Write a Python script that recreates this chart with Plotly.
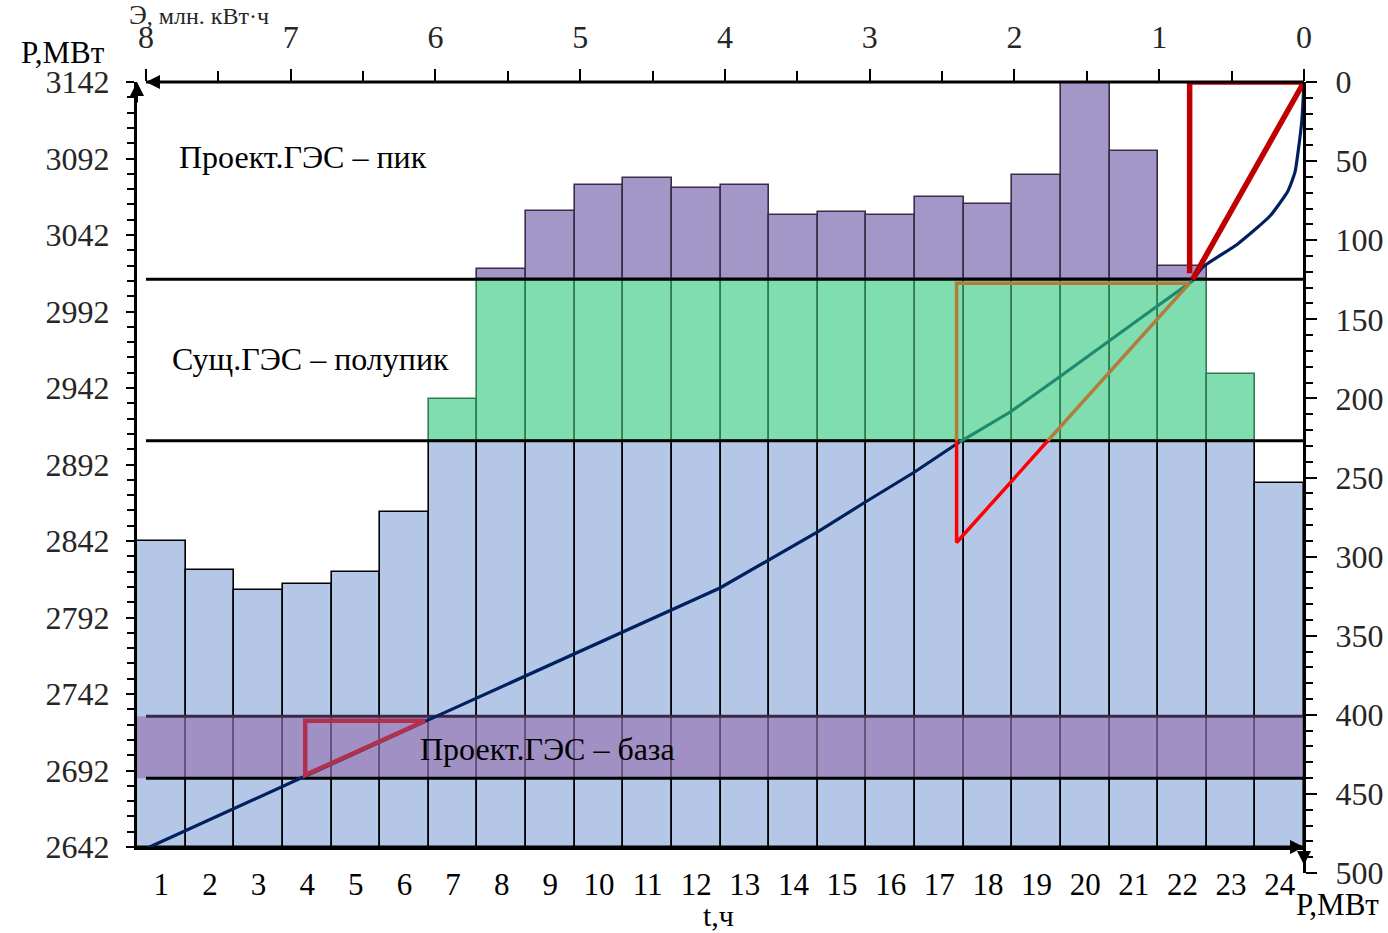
import plotly.graph_objects as go

# ---------------- data ----------------
hours = list(range(1, 25))
load_mw = [2842, 2823, 2810, 2814, 2822, 2861, 2935, 3020, 3058, 3075, 3079, 3073,
           3075, 3055, 3057, 3055, 3067, 3062, 3081, 3142, 3097, 3022, 2951, 2880]

p_min = 2642
p_max = 3142
semi_level = 2907.5          # base / semi-peak boundary
peak_level = 3013            # semi-peak / peak boundary
base_band = [2687, 2727.5]   # projected HPP - base band

# integral load curve (x: energy, million kWh counted from the right; y: MW)
curve_low_e = [7.99, 6.06, 4.035, 3.70, 3.36, 3.03, 2.69, 2.38]
curve_low_p = [2641.3, 2724.6, 2811.3, 2829.6, 2847.9, 2867.5, 2887.1, 2906.7]
curve_mid_e = [2.38, 2.03, 1.69, 1.35, 1.02, 0.77]
curve_mid_p = [2906.7, 2926.3, 2949.2, 2972.7, 2995.1, 3012]
curve_top_e = [0.77, 0.70, 0.46, 0.235, 0.111, 0.062, 0.041, 0.014, 0]
curve_top_p = [3012, 3021, 3036, 3054.4, 3070.8, 3083.2, 3096.3, 3117.8, 3142]

# triangles
peak_tri_e = [0.79, 0.79, 0, 0.77]
peak_tri_p = [3017, 3142, 3142, 3013]
semi_tri_e = [1.77, 0.79, 2.40, 2.40]
semi_tri_p = [2907.5, 3010.5, 3010.5, 2907.5]
semi_low_e = [2.40, 2.40, 1.77]
semi_low_p = [2907.5, 2841, 2907.5]
base_tri_e = [6.07, 6.90, 6.90, 6.07]
base_tri_p = [2724.5, 2724.5, 2689, 2724.5]

energy_left = 8.062

# ---------------- derived stack parts ----------------
blue_h, green_h, purple_h = [], [], []
for p in load_mw:
    blue_h.append(min(p, semi_level) - p_min)
    green_h.append(min(p, peak_level) - semi_level if p > semi_level else None)
    purple_h.append(p - peak_level if p > peak_level else None)

FONT = "Liberation Serif"
W, H = 1388, 933
ML, MR, MT, MB = 137, 84, 82, 60
ph = H - MT - MB
pw = W - ML - MR
ydom0 = 26 / ph

fig = go.Figure()

fig.add_trace(go.Bar(x=hours, y=blue_h, base=p_min, width=1,
                     marker=dict(color="#B4C7E7", line=dict(color="#000000", width=1.6)),
                     showlegend=False, hoverinfo="skip"))
fig.add_trace(go.Bar(x=hours, y=green_h, base=semi_level, width=1,
                     marker=dict(color="#80DDB0", line=dict(color="#2E7D4F", width=1.6)),
                     showlegend=False, hoverinfo="skip"))
fig.add_trace(go.Bar(x=hours, y=purple_h, base=peak_level, width=1,
                     marker=dict(color="#A397C8", line=dict(color="#3D2B4A", width=1.6)),
                     showlegend=False, hoverinfo="skip"))

# base band (semi-transparent)
fig.add_trace(go.Scatter(x=[0.4, 24.5, 24.5, 0.4, 0.4],
                         y=[base_band[0], base_band[0], base_band[1], base_band[1], base_band[0]],
                         fill="toself", fillcolor="rgba(150,116,178,0.66)", mode="none",
                         showlegend=False, hoverinfo="skip"))

# level lines
for lvl, col in [(peak_level, "#000000"), (semi_level, "#000000"),
                 (base_band[1], "#3A2A4A"), (base_band[0], "#000000")]:
    fig.add_trace(go.Scatter(x=[8, 0], y=[lvl, lvl], xaxis="x2", mode="lines",
                             line=dict(color=col, width=3), showlegend=False, hoverinfo="skip"))

# integral curve
fig.add_trace(go.Scatter(x=curve_low_e, y=curve_low_p, xaxis="x2", mode="lines",
                         line=dict(color="#002060", width=3.2),
                         showlegend=False, hoverinfo="skip"))
fig.add_trace(go.Scatter(x=curve_mid_e, y=curve_mid_p, xaxis="x2", mode="lines",
                         line=dict(color="#1F8A6C", width=3.2),
                         showlegend=False, hoverinfo="skip"))
fig.add_trace(go.Scatter(x=curve_top_e, y=curve_top_p, xaxis="x2", mode="lines",
                         line=dict(color="#002060", width=3.2, shape="spline", smoothing=0.5),
                         showlegend=False, hoverinfo="skip"))

# triangles
fig.add_trace(go.Scatter(x=base_tri_e, y=base_tri_p, xaxis="x2", mode="lines",
                         line=dict(color="#B03050", width=4.5), showlegend=False, hoverinfo="skip"))
fig.add_trace(go.Scatter(x=semi_tri_e, y=semi_tri_p, xaxis="x2", mode="lines",
                         line=dict(color="#B07D3C", width=3.5), showlegend=False, hoverinfo="skip"))
fig.add_trace(go.Scatter(x=semi_low_e, y=semi_low_p, xaxis="x2", mode="lines",
                         line=dict(color="#FF0000", width=3.5), showlegend=False, hoverinfo="skip"))
fig.add_trace(go.Scatter(x=peak_tri_e, y=peak_tri_p, xaxis="x2", mode="lines",
                         line=dict(color="#C00000", width=5.5), showlegend=False, hoverinfo="skip"))

# invisible trace for the right axis
fig.add_trace(go.Scatter(x=[None], y=[None], xaxis="x", yaxis="y3", mode="lines",
                         showlegend=False, hoverinfo="skip"))

tickfont = dict(family=FONT, size=32, color="#262626")

fig.update_layout(
    template="none",
    width=W, height=H,
    margin=dict(l=ML, r=MR, t=MT, b=MB, pad=0),
    paper_bgcolor="white", plot_bgcolor="rgba(0,0,0,0)",
    barmode="overlay", bargap=0,
    font=dict(family=FONT, size=30, color="black"),
    xaxis=dict(range=[0.5, 24.5], tickmode="array", tickvals=hours, ticktext=[str(h) for h in hours],
               showline=True, linecolor="black", linewidth=3, ticks="", showgrid=False, zeroline=False,
               tickfont=dict(family=FONT, size=31, color="black"), ticklabelstandoff=8, anchor="y",
               automargin=False),
    xaxis2=dict(range=[energy_left, 0], overlaying="x", side="top", anchor="y",
                tickmode="linear", tick0=0, dtick=1, ticks="outside", ticklen=12, tickwidth=2,
                tickcolor="black", showline=False, showgrid=False, zeroline=False,
                minor=dict(tick0=0, dtick=0.5, ticks="outside", ticklen=10, tickwidth=2, tickcolor="black"),
                tickfont=tickfont, ticklabelstandoff=8, automargin=False),
    yaxis=dict(range=[p_min, p_max], domain=[ydom0, 1], tickmode="linear", tick0=p_min, dtick=50,
               ticks="outside", ticklen=8, tickwidth=2, tickcolor="black",
               minor=dict(tick0=p_min, dtick=10, ticks="outside", ticklen=7, tickwidth=2, tickcolor="black"),
               showline=True, linecolor="black", linewidth=3, showgrid=False, zeroline=False,
               tickfont=tickfont, ticklabelstandoff=10, anchor="x", automargin=False),
    yaxis3=dict(range=[500, 0], domain=[0, 1], anchor="free", position=1, side="right",
                tickmode="linear", tick0=0, dtick=50, ticks="outside", ticklen=11, tickwidth=2,
                tickcolor="black",
                minor=dict(tick0=0, dtick=10, ticks="outside", ticklen=7, tickwidth=2, tickcolor="black"),
                showline=True, linecolor="black", linewidth=3, showgrid=False, zeroline=False,
                tickfont=tickfont, ticklabelstandoff=12, automargin=False, autoshift=False),
    shapes=[dict(type="line", xref="x2", yref="paper", x0=8, x1=0, y0=1, y1=1,
                 line=dict(color="black", width=3), layer="above")],
)

ann = []
lab_font = dict(family=FONT, size=32, color="black")
ann.append(dict(x=1.32, y=3093, xref="x", yref="y", text="Проект.ГЭС – пик", showarrow=False,
                xanchor="left", yanchor="middle", font=lab_font))
ann.append(dict(x=1.18, y=2961, xref="x", yref="y", text="Сущ.ГЭС – полупик", showarrow=False,
                xanchor="left", yanchor="middle", font=lab_font))
ann.append(dict(x=6.28, y=2706, xref="x", yref="y", text="Проект.ГЭС – база", showarrow=False,
                xanchor="left", yanchor="middle", font=lab_font))
# axis titles
ann.append(dict(x=(63 - ML) / pw, y=(H - MB - 52) / ph, xref="paper", yref="paper",
                text="P,МВт", showarrow=False, xanchor="center", yanchor="middle",
                font=dict(family=FONT, size=31, color="black")))
ann.append(dict(x=(127 - ML) / pw, y=(H - MB - 15) / ph, xref="paper", yref="paper",
                text="Э<span style='font-size:24px'>, млн. кВт·ч</span>", showarrow=False,
                xanchor="left", yanchor="middle", font=dict(family=FONT, size=27, color="#262626")))
ann.append(dict(x=(718 - ML) / pw, y=(H - MB - 915) / ph, xref="paper", yref="paper",
                text="t,ч", showarrow=False, xanchor="center", yanchor="middle",
                font=dict(family=FONT, size=30, color="black")))
ann.append(dict(x=(1337 - ML) / pw, y=(H - MB - 904) / ph, xref="paper", yref="paper",
                text="Р,МВт", showarrow=False, xanchor="center", yanchor="middle",
                font=dict(family=FONT, size=31, color="black")))
# axis arrows
arrow = dict(text="", showarrow=True, arrowhead=2, arrowsize=1.4, arrowwidth=2,
             arrowcolor="black", standoff=0, startstandoff=0)
ann.append(dict(arrow, x=0, y=1, xref="paper", yref="paper", ax=0, ay=22))
ann.append(dict(arrow, x=8, y=1, xref="x2", yref="paper", ax=22, ay=0))
ann.append(dict(arrow, x=1, y=p_min, xref="paper", yref="y", ax=-22, ay=0))
ann.append(dict(arrow, x=1, y=495, xref="paper", yref="y3", ax=0, ay=-22))
fig.update_layout(annotations=ann)

fig.write_html("out.html")
